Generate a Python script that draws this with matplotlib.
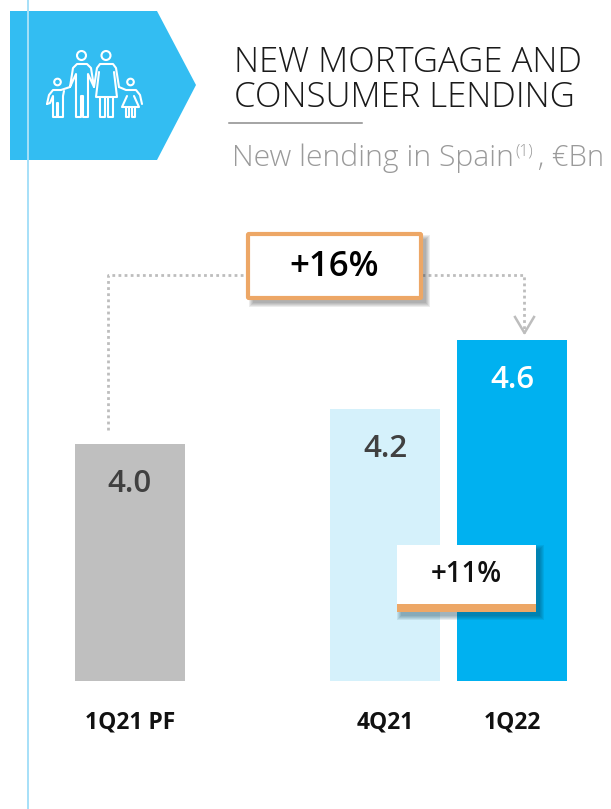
import matplotlib
matplotlib.use("Agg")
import matplotlib.pyplot as plt
from matplotlib.patches import Polygon, Rectangle, Circle, FancyBboxPatch

plt.rcParams["font.family"] = ["Open Sans", "DejaVu Sans"]

# Chart data
categories = ["1Q21 PF", "4Q21", "1Q22"]
values = [4.0, 4.2, 4.6]
value_labels = ["4.0", "4.2", "4.6"]
bar_colors = ["#BFBFBF", "#D5F1FB", "#00B1F0"]
label_colors = ["#404040", "#404040", "#FFFFFF"]
bar_centers = [130, 385, 512]
title_lines = ["NEW MORTGAGE AND", "CONSUMER LENDING"]
subtitle_main = "New lending in Spain"
subtitle_note = "(1)"
subtitle_unit = ", €Bn"
growth_yoy = "+16%"
growth_qoq = "+11%"

W, H = 611, 809
fig = plt.figure(figsize=(W / 100, H / 100), dpi=100, facecolor="white")

# Pixel-space layer for the header and callouts
deco = fig.add_axes([0, 0, 1, 1], zorder=1)
deco.set_xlim(0, W)
deco.set_ylim(H, 0)
deco.axis("off")

# Bars: truncated value axis, baseline at y=681 px, 4.6 at y=340 px
base_px, top_px = 681, 340
ax = fig.add_axes([0, 1 - base_px / H, 1, (base_px - top_px) / H], zorder=2)
ax.patch.set_alpha(0)
unit_px = (top_px - 444) / (4.0 - 4.6)
ax.set_ylim(4.6 - (base_px - top_px) / unit_px, 4.6)
ax.set_xlim(0, W)
ax.bar(bar_centers, values, width=110, color=bar_colors, linewidth=0)
for s in ax.spines.values():
    s.set_visible(False)
ax.set_yticks([])
ax.set_xticks(bar_centers, categories, fontsize=16.5, fontweight="bold", color="#111111")
ax.tick_params(axis="x", length=0, pad=21)
for x, v, t, c in zip(bar_centers, values, value_labels, label_colors):
    ax.annotate(t, (x, v), xytext=(0, -28.5), textcoords="offset points",
                ha="center", va="center", fontsize=22.5, color=c, fontweight="semibold")

# Callouts sit above the bars
top = fig.add_axes([0, 0, 1, 1], zorder=3)
top.set_xlim(0, W)
top.set_ylim(H, 0)
top.axis("off")

# Header arrow with family icon
deco.add_patch(Polygon([(10, 11), (157, 11), (196, 85), (157, 160), (10, 160)],
                       closed=True, fc="#33BDF2", ec="none"))
deco.plot([28, 28], [0, H], color="#A6E0F8", lw=1.4, zorder=5)

ic = dict(color="white", lw=1.5, solid_capstyle="round", solid_joinstyle="round", zorder=6)
def head(x, y, r):
    deco.add_patch(Circle((x, y), r, fc="none", ec="white", lw=1.5, zorder=6))
# parents
head(81.5, 55.5, 4.5)
head(106, 55.5, 4.5)
deco.plot([70, 73, 77, 87, 91, 94, 88, 88, 83, 83, 81, 81, 76, 76, 70],
          [87, 68, 64, 64, 68, 87, 74, 117, 117, 96, 96, 117, 117, 74, 87], **ic)
deco.plot([94, 97, 100, 113, 116, 119],
          [87, 68, 64, 64, 68, 87], **ic)
deco.plot([99, 96, 117, 114], [72, 97, 97, 72], **ic)
deco.plot([100, 100, 105, 105], [97, 117, 117, 97], **ic)
deco.plot([108, 108, 113, 113], [97, 117, 117, 97], **ic)
# boy on the left
head(57.5, 82, 3.3)
deco.plot([47, 49, 53, 61, 70], [104, 95, 90, 90, 87], **ic)
deco.plot([47, 50, 53, 53, 57, 57, 58, 58, 63, 63, 64],
          [104, 103, 96, 117, 117, 103, 103, 117, 117, 96, 91], **ic)
# girl on the right
head(130.5, 82, 3.3)
deco.plot([119, 126, 136, 140, 142], [87, 90, 90, 95, 104], **ic)
deco.plot([127, 122, 139, 134], [96, 107, 107, 96], **ic)
deco.plot([126, 126, 129, 129], [107, 117, 117, 107], **ic)
deco.plot([132, 132, 135, 135], [107, 117, 117, 107], **ic)

# Header text
deco.text(234, 63, title_lines[0], fontsize=25, fontweight="light", color="#1A1A1A", va="center", ha="left")
deco.text(234, 98, title_lines[1], fontsize=25, fontweight="light", color="#1A1A1A", va="center", ha="left")
deco.plot([229, 362], [123, 123], color="#8C8C8C", lw=1.1)

# Subtitle with a raised footnote marker; baseline y=166 px
sub = dict(fontweight="light", color="#9A9A9A", va="baseline", ha="left")
deco.text(232, 166, subtitle_main, fontsize=21.7, **sub)
deco.text(515, 155, subtitle_note, fontsize=11.5, **sub)
deco.text(538, 166, subtitle_unit, fontsize=21, **sub)

# Dotted connector from the first bar to the last one
dot = dict(color="#BDBDBD", lw=2.0, linestyle=(0, (1, 1.2)), zorder=1)
deco.plot([108, 108, 246], [430, 275, 275], **dot)
deco.plot([422, 524, 524], [275, 275, 333], **dot)
deco.plot([515, 524.5, 534], [317, 333, 317], color="#BDBDBD", lw=1.8, zorder=2)

def soft_shadow(axes, x0, y0, w, h, dx, dy, color="#303030"):
    # stacked translucent rectangles give a blurred drop shadow
    for grow in (4, 3, 2, 1, 0):
        axes.add_patch(Rectangle((x0 + dx - grow, y0 + dy - grow), w + 2 * grow, h + 2 * grow,
                                 fc=color, ec="none", alpha=0.09, zorder=1))

# +16% callout
soft_shadow(deco, 248, 234, 173, 64, 5, 5)
deco.add_patch(FancyBboxPatch((248, 234), 173, 64, boxstyle="round,pad=0,rounding_size=1",
                              fc="white", ec="#EDA766", lw=3, zorder=3))
deco.text(334.5, 267, growth_yoy, fontsize=25, fontweight="semibold", color="black",
          ha="center", va="center", zorder=4)

# +11% callout
soft_shadow(top, 397, 545, 139, 67, 4, 4, color="#0A3A50")
top.add_patch(Rectangle((397, 545), 139, 59, fc="white", ec="none", zorder=3))
top.add_patch(Rectangle((397, 604), 139, 8, fc="#EDA766", ec="none", zorder=3))
top.text(466.5, 575, growth_qoq, fontsize=20, fontweight="semibold", color="#111111",
         ha="center", va="center", zorder=4)

fig.savefig("out.png", dpi=100)
